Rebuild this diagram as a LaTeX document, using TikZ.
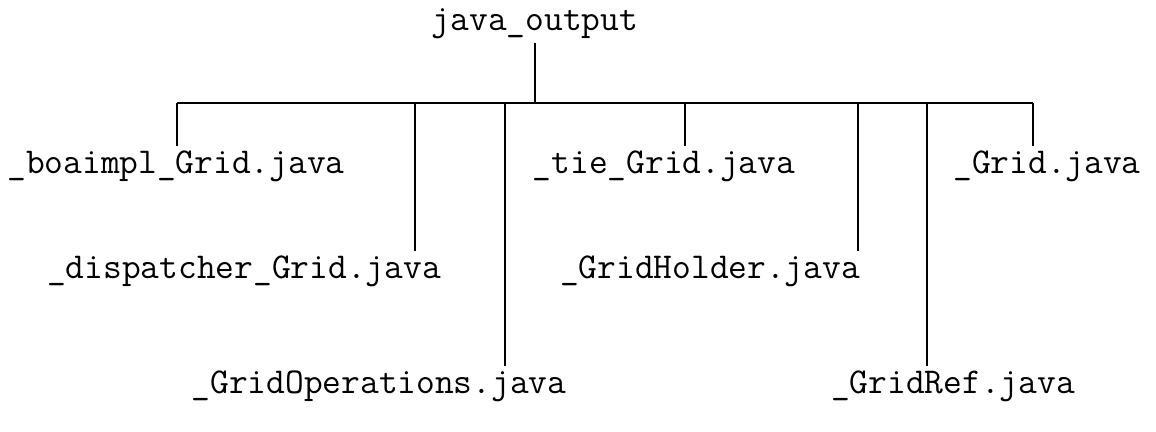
\documentclass[tikz,border=0pt]{standalone}
\usepackage{fontspec}
\usetikzlibrary{positioning}
\tikzset{
  every node/.style={font=\ttfamily\fontsize{18.2}{20}\selectfont, text=black, inner sep=2pt},
  file/.style={anchor=center},
  branch/.style={draw=black, line width=0.75pt},
}
\begin{document}
\begin{tikzpicture}[x=0.5pt,y=-0.5pt]
  \useasboundingbox (0,0) rectangle (1156,432);
  % Root directory
  \node[file] (root) at (535,24) {java\_output};
  % Files, three rows
  \node[file] (boaimpl) at (176,166) {\_boaimpl\_Grid.java};
  \node[file] (tie) at (664,166) {\_tie\_Grid.java};
  \node[file] (grid) at (1047,166) {\_Grid.java};
  \node[file] (dispatcher) at (244,271) {\_dispatcher\_Grid.java};
  \node[file] (holder) at (710,271) {\_GridHolder.java};
  \node[file] (operations) at (379,386) {\_GridOperations.java};
  \node[file] (ref) at (953,386) {\_GridRef.java};
  % Bus taps
  \coordinate (hub) at (535,103);
  \coordinate (tboaimpl) at (177,103);
  \coordinate (tdispatcher) at (415,103);
  \coordinate (toperations) at (505,103);
  \coordinate (ttie) at (685,103);
  \coordinate (tholder) at (858,103);
  \coordinate (tref) at (927,103);
  \coordinate (tgrid) at (1033,103);
  % Trunk and bus
  \draw[branch] (root) -- (hub);
  \draw[branch] (tboaimpl) -- (tgrid);
  % Drops to each file
  \foreach \f in {boaimpl,dispatcher,operations,tie,holder,ref,grid}
    \draw[branch] (t\f) -- (t\f |- \f.north);
\end{tikzpicture}
\end{document}
